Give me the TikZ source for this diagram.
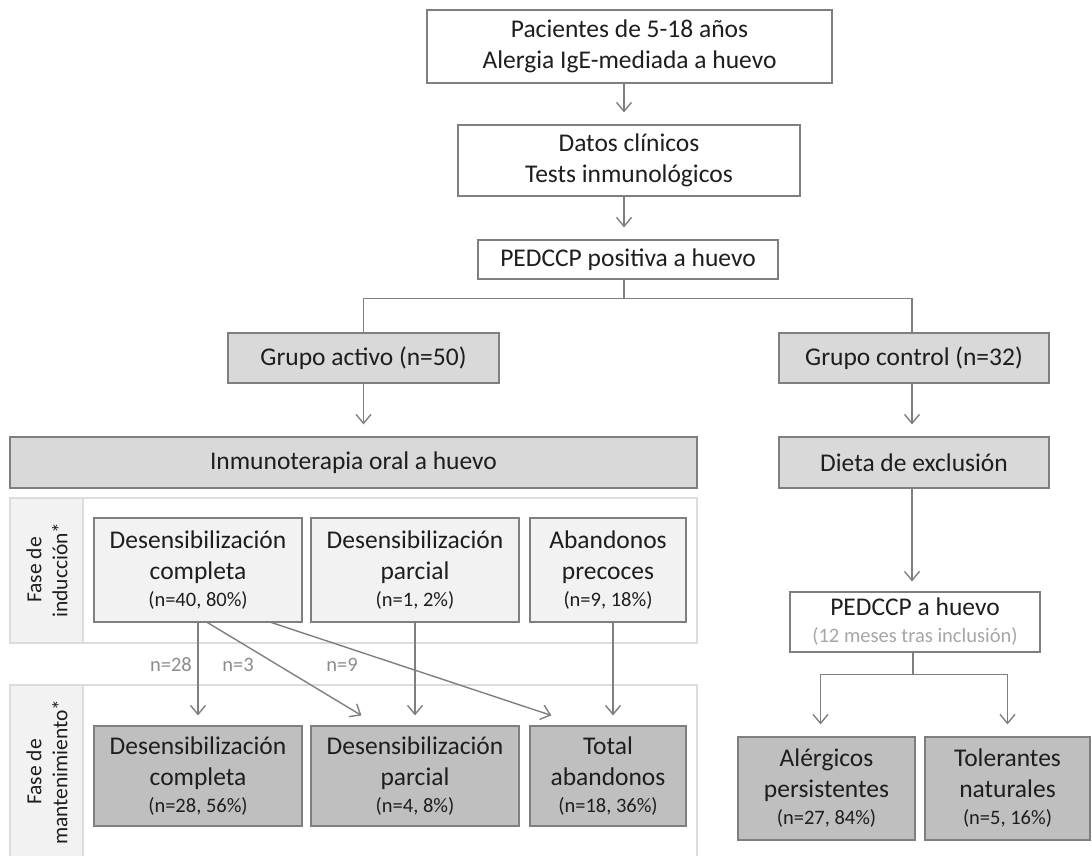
\documentclass[tikz,border=0pt]{standalone}
\usepackage{fontspec}
\setmainfont{Carlito}
\usetikzlibrary{arrows.meta,calc}
\definecolor{txt}{HTML}{1E1E1E}
\definecolor{edge}{HTML}{7F7F7F}
\definecolor{fillA}{HTML}{D9D9D9}
\definecolor{fillB}{HTML}{F2F2F2}
\definecolor{fillC}{HTML}{BFBFBF}
\definecolor{panelline}{HTML}{DCDCDC}
\definecolor{note}{HTML}{A6A6A6}
\definecolor{flowlabel}{HTML}{8C8C8C}
\newcommand\bigtxt{\fontsize{25.5}{31}\selectfont}
\newcommand\smalltxt{\fontsize{20.5}{24}\selectfont}
\newcommand\sidetxt{\fontsize{21.5}{26}\selectfont}
\begin{document}
\begin{tikzpicture}[x=1pt,y=-1pt,
  box/.style={draw=edge,line width=1.1pt,inner sep=0pt,align=center,text=txt,font=\bigtxt},
  whitebox/.style={box,fill=white},
  greybox/.style={box,fill=fillA},
  paleBox/.style={box,fill=fillB},
  darkbox/.style={box,fill=fillC},
  panelbox/.style={draw=panelline,line width=1.2pt,inner sep=0pt},
  sidelabel/.style={rotate=90,align=center,text=txt,font=\sidetxt},
  conn/.style={draw=edge,line width=1.4pt},
  arr/.style={conn,-{Straight Barb[length=9pt,width=15pt,line width=1.4pt]}},
  count/.style={text=flowlabel,font=\smalltxt}]
\useasboundingbox (0,0) rectangle (1092,856);

% panels of the two phases
\node[panelbox,fill=white,minimum width=687pt,minimum height=145pt] (pind) at (353.5,570.5) {};
\node[panelbox,fill=fillB,minimum width=73pt,minimum height=145pt] (lind) at (46.5,570.5) {};
\node[panelbox,fill=white,minimum width=687pt,minimum height=175pt] (pman) at (353.5,772.5) {};
\node[panelbox,fill=fillB,minimum width=73pt,minimum height=175pt] (lman) at (46.5,772.5) {};
\node[sidelabel] (tind) at (47,570) {Fase de\\inducción*};
\node[sidelabel] (tman) at (47,772) {Fase de\\mantenimiento*};

% upper chain
\node[whitebox,minimum width=405pt,minimum height=73pt] (pac) at (629.5,46.5) {Pacientes de 5-18 años\\Alergia IgE-mediada a huevo};
\node[whitebox,minimum width=342pt,minimum height=71pt] (dat) at (629,160.5) {Datos clínicos\\Tests inmunológicos};
\node[whitebox,minimum width=300pt,minimum height=39pt] (ped) at (628,259.5) {PEDCCP positiva a huevo};

\node[greybox,minimum width=271pt,minimum height=50pt] (ga) at (363.5,358) {Grupo activo (n=50)};
\node[greybox,minimum width=270pt,minimum height=50pt] (gc) at (914,358) {Grupo control (n=32)};

\node[greybox,minimum width=687pt,minimum height=51pt] (ito) at (353.5,462.5) {Inmunoterapia oral a huevo};
\node[greybox,minimum width=270pt,minimum height=51pt] (die) at (914,462.5) {Dieta de exclusión};

% induction phase
\node[paleBox,minimum width=208pt,minimum height=104pt] (ic) at (198,570) {Desensibilización\\completa\\[-4pt]{\smalltxt (n=40, 80\%)}};
\node[paleBox,minimum width=208pt,minimum height=104pt] (ip) at (415,570) {Desensibilización\\parcial\\[-4pt]{\smalltxt (n=1, 2\%)}};
\node[paleBox,minimum width=156pt,minimum height=104pt] (ia) at (608,570) {Abandonos\\precoces\\[-4pt]{\smalltxt (n=9, 18\%)}};

% maintenance phase
\node[darkbox,minimum width=208pt,minimum height=100pt] (mc) at (198,776) {Desensibilización\\completa\\[-4pt]{\smalltxt (n=28, 56\%)}};
\node[darkbox,minimum width=208pt,minimum height=100pt] (mp) at (415,776) {Desensibilización\\parcial\\[-4pt]{\smalltxt (n=4, 8\%)}};
\node[darkbox,minimum width=156pt,minimum height=100pt] (mt) at (608,776) {Total\\abandonos\\[-4pt]{\smalltxt (n=18, 36\%)}};

% control branch
\node[whitebox,minimum width=250pt,minimum height=60pt] (fin) at (915,622) {PEDCCP a huevo\\[-4pt]{\smalltxt\color{note}(12 meses tras inclusión)}};
\node[darkbox,minimum width=177pt,minimum height=103pt] (ale) at (826.5,788.5) {Alérgicos\\persistentes\\[-4pt]{\smalltxt (n=27, 84\%)}};
\node[darkbox,minimum width=165pt,minimum height=103pt] (tol) at (1007.5,788.5) {Tolerantes\\naturales\\[-4pt]{\smalltxt (n=5, 16\%)}};

% connectors
\draw[arr,shorten >=12pt] (pac.south -| 624,0) -- (dat.north -| 624,0);
\draw[arr,shorten >=12pt] (dat.south -| 624,0) -- (ped.north -| 624,0);
\draw[conn] (ped.south -| 624,0) -- ++(0,19) coordinate (split) -| (ga.north);
\draw[conn] (split) -| (gc.north -| 912,0);
\draw[arr,shorten >=12pt] (ga.south) -- (ito.north -| ga.south);
\draw[arr,shorten >=12pt] (gc.south -| 912,0) -- (die.north -| 912,0);
\draw[arr,shorten >=10pt] (die.south -| 912,0) -- (fin.north -| 912,0);
\draw[conn] (fin.south -| 913,0) -- ++(0,22) coordinate (split2) -| ($(ale.north)+(-6,-12)$);
\draw[arr] ($(ale.north)+(-6,-50)$) -- ($(ale.north)+(-6,-12)$);
\draw[conn] (split2) -| ($(tol.north)+(0,-12)$);
\draw[arr] ($(tol.north)+(0,-50)$) -- ($(tol.north)+(0,-12)$);

\draw[arr,shorten >=10pt] (ic.south) -- (mc.north);
\draw[arr] ($(ic.south west)+(114,0)$) -- ($(mp.north west)+(51,-10)$);
\draw[arr] ($(ic.south west)+(178,0)$) -- ($(mt.north west)+(22,-10)$);
\draw[arr,shorten >=10pt] (ip.south) -- (mp.north);
\draw[arr] (ia.south -| 613,0) -- ($(mt.north -| 613,0)+(0,-10)$);

\node[count] (n28) at (171,665) {n=28};
\node[count] (n3) at (238,665) {n=3};
\node[count] (n9) at (342,665) {n=9};
\end{tikzpicture}
\end{document}
